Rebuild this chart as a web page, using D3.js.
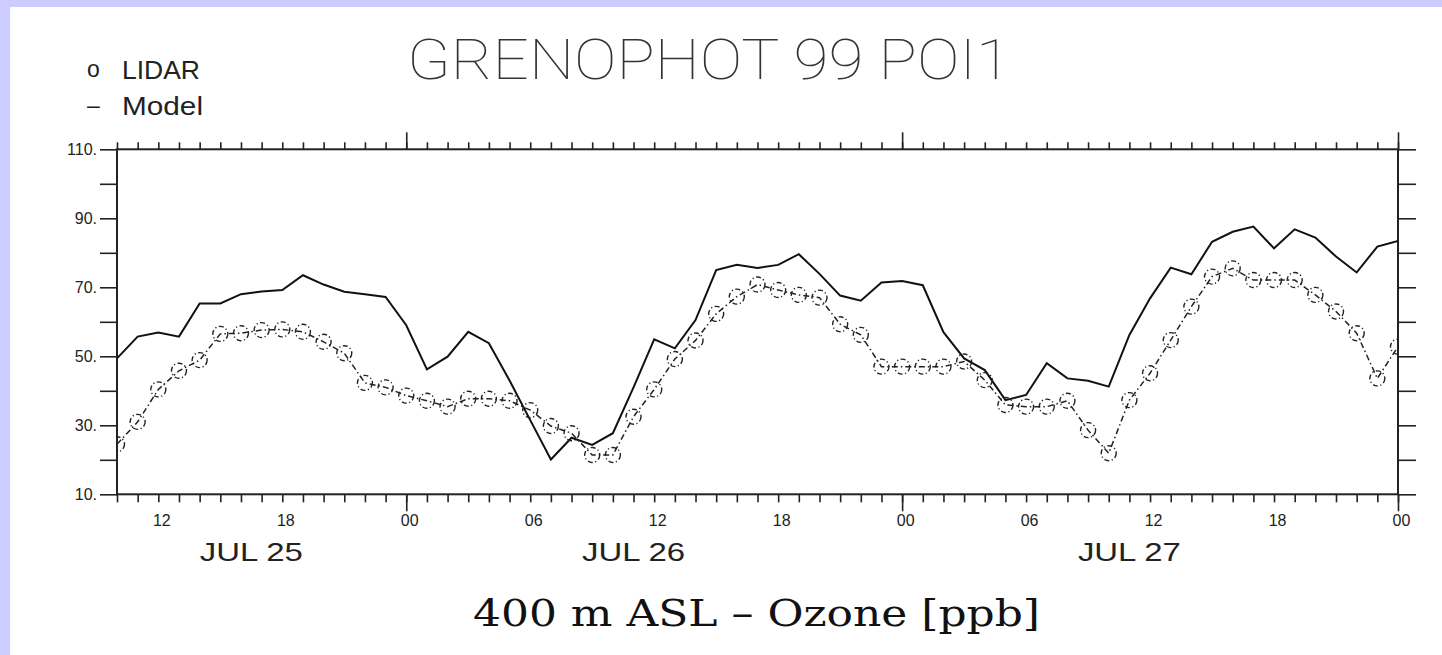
<!DOCTYPE html>
<html>
<head>
<meta charset="utf-8">
<script src="https://cdn.jsdelivr.net/npm/d3@7"></script>
<style>
  html, body { margin: 0; padding: 0; background: #ccccff; }
  svg { display: block; }
</style>
</head>
<body>
<svg id="chart" width="1442" height="655"></svg>
<script>
// ---------------- data ----------------
const startTime = new Date(Date.UTC(1999, 6, 25, 10));
const endTime = new Date(Date.UTC(1999, 6, 28, 0));
// hourly samples, 10:00 Jul 25 ... 00:00 Jul 28
const times = d3.utcHour.range(startTime, new Date(Date.UTC(1999, 6, 28, 0, 1)));

const modelValues = [
  49.4, 55.7, 56.9, 55.7, 65.3, 65.3, 68.0, 68.8, 69.2, 73.5,
  70.8, 68.7, 68.0, 67.2, 59.0, 46.2, 49.9, 57.1, 53.8, 43.0,
  31.5, 20.1, 26.4, 24.3, 27.7, 41.0, 54.9, 52.3, 60.5, 75.0,
  76.5, 75.6, 76.5, 79.6, 73.9, 67.6, 66.1, 71.4, 71.8, 70.6,
  57.0, 49.4, 46.0, 37.3, 38.8, 48.0, 43.6, 42.9, 41.2, 56.2,
  66.8, 75.7, 73.8, 83.2, 86.1, 87.6, 81.3, 86.8, 84.4, 78.9,
  74.3, 81.8, 83.4
];
const lidarValues = [
  24.5, 31.0, 40.4, 45.8, 48.9, 56.5, 56.7, 57.6, 57.8, 57.1,
  54.2, 50.9, 42.3, 41.0, 38.6, 37.1, 35.4, 37.7, 37.7, 37.1,
  34.4, 29.8, 27.7, 21.4, 21.4, 32.5, 40.4, 49.2, 54.6, 62.3,
  67.3, 70.8, 69.2, 67.8, 67.0, 59.3, 56.2, 47.0, 47.0, 47.0,
  47.0, 48.5, 43.1, 35.9, 35.4, 35.4, 37.1, 28.6, 21.9, 37.3,
  45.1, 54.7, 64.4, 73.1, 75.5, 72.1, 72.1, 72.1, 67.8, 63.0,
  56.7, 43.6, 52.8
];

const yTickValues = [10, 20, 30, 40, 50, 60, 70, 80, 90, 100, 110];
const yLabelValues = [10, 30, 50, 70, 90, 110];
const xLabelTimes = d3.utcHour.every(6).range(new Date(Date.UTC(1999, 6, 25, 12)), new Date(Date.UTC(1999, 6, 28, 0, 1)));
const dateLabels = ["JUL 25", "JUL 26", "JUL 27"];
const dateLabelTimes = [
  new Date(Date.UTC(1999, 6, 25, 16, 30)),
  new Date(Date.UTC(1999, 6, 26, 11)),
  new Date(Date.UTC(1999, 6, 27, 11))
];
const titleText = "GRENOPHOT 99 POI1";
const subtitleText = "400 m ASL \u2013 Ozone [ppb]";
const legendItems = [{ symbol: "o", label: "LIDAR" }, { symbol: "\u2013", label: "Model" }];

// ---------------- layout ----------------
const svg = d3.select("#chart");
const L = 117, R = 1398, T = 149.3, B = 494.3;
const ink = "#222";
const sans = "'Liberation Sans', Arial, Helvetica, sans-serif";

svg.append("rect").attr("x", 10).attr("y", 7).attr("width", 1432).attr("height", 648).attr("fill", "#fff");

const x = d3.scaleUtc().domain([startTime, endTime]).range([L, R]);
const y = d3.scaleLinear().domain([10, 110]).range([B, T]);

svg.append("defs").append("clipPath").attr("id", "plotclip")
  .append("rect").attr("x", L).attr("y", T).attr("width", R - L).attr("height", B - T);

// ---- axes ----
const hourTicks = d3.utcHour.range(startTime, new Date(Date.UTC(1999, 6, 28, 0, 1)));
const dayTicks = hourTicks.filter(d => d.getUTCHours() === 0);

function styleAxis(g) {
  g.select(".domain").remove();
  g.selectAll(".tick line").attr("stroke", ink).attr("stroke-width", 1.6);
  g.selectAll(".tick text").attr("fill", ink).attr("font-family", sans).attr("font-size", 16);
}

svg.append("g").attr("transform", `translate(0,${B})`)
  .call(d3.axisBottom(x).tickValues(hourTicks).tickSize(8).tickFormat(""))
  .call(styleAxis);
svg.append("g").attr("transform", `translate(0,${B})`)
  .call(d3.axisBottom(x).tickValues(dayTicks).tickSize(17).tickFormat(""))
  .call(styleAxis);
svg.append("g").attr("transform", `translate(0,${T})`)
  .call(d3.axisTop(x).tickValues(hourTicks).tickSize(7).tickFormat(""))
  .call(styleAxis);
svg.append("g").attr("transform", `translate(0,${T})`)
  .call(d3.axisTop(x).tickValues(dayTicks).tickSize(17).tickFormat(""))
  .call(styleAxis);
const xl = svg.append("g").attr("transform", `translate(0,${B})`)
  .call(d3.axisBottom(x).tickValues(xLabelTimes).tickSize(0).tickPadding(20).tickFormat(d3.utcFormat("%H")))
  .call(styleAxis);
xl.selectAll(".tick text").attr("dx", 3);

svg.append("g").attr("transform", `translate(${L},0)`)
  .call(d3.axisLeft(y).tickValues(yTickValues).tickSize(17).tickPadding(3)
    .tickFormat(d => yLabelValues.includes(d) ? d + "." : ""))
  .call(styleAxis);
svg.append("g").attr("transform", `translate(${R},0)`)
  .call(d3.axisRight(y).tickValues(yTickValues).tickSize(18).tickFormat(""))
  .call(styleAxis);

// frame
svg.append("rect").attr("x", L).attr("y", T).attr("width", R - L).attr("height", B - T)
  .attr("fill", "none").attr("stroke", ink).attr("stroke-width", 2);

// date labels
svg.append("g").selectAll("text").data(dateLabels).join("text")
  .attr("x", (d, i) => x(dateLabelTimes[i]))
  .attr("y", 561)
  .attr("text-anchor", "middle")
  .attr("font-family", sans).attr("font-size", 26).attr("fill", ink)
  .attr("textLength", 103).attr("lengthAdjust", "spacingAndGlyphs")
  .text(d => d);

// ---- series ----
const plot = svg.append("g").attr("clip-path", "url(#plotclip)");
const line = d3.line().x((d, i) => x(times[i])).y(d => y(d));
plot.append("path").datum(modelValues)
  .attr("d", line).attr("fill", "none")
  .attr("stroke", "#111").attr("stroke-width", 2).attr("stroke-linejoin", "miter");

plot.append("path").datum(lidarValues)
  .attr("d", line).attr("fill", "none")
  .attr("stroke", "#222").attr("stroke-width", 1.5).attr("stroke-dasharray", "6,3,1.5,3");
plot.append("g").selectAll("circle").data(lidarValues).join("circle")
  .attr("cx", (d, i) => x(times[i])).attr("cy", d => y(d)).attr("r", 7.5)
  .attr("fill", "none").attr("stroke", "#222").attr("stroke-width", 1.4)
  .attr("stroke-dasharray", "5,2.5,1.2,2.5");

// ---- title / legend / subtitle ----
svg.append("text").attr("x", 407).attr("y", 79)
  .attr("font-family", "Roboto, 'Liberation Sans', Arial, sans-serif").attr("font-weight", 100)
  .attr("font-size", 55).attr("fill", "#333")
  .attr("textLength", 604).attr("lengthAdjust", "spacingAndGlyphs")
  .text(titleText);

const leg = svg.append("g");
legendItems.forEach((it, i) => {
  leg.append("text").attr("x", 87).attr("y", 77 + i * 36)
    .attr("font-family", sans).attr("font-size", 23).attr("fill", ink).text(it.symbol);
  leg.append("text").attr("x", 122).attr("y", 79 + i * 36)
    .attr("font-family", sans).attr("font-size", 25).attr("fill", ink)
    .attr("textLength", i === 0 ? 78 : 81).attr("lengthAdjust", "spacingAndGlyphs")
    .text(it.label);
});

svg.append("text").attr("x", 473).attr("y", 626)
  .attr("font-family", "'DejaVu Serif', 'Liberation Serif', serif")
  .attr("font-size", 38).attr("fill", "#111")
  .attr("textLength", 567).attr("lengthAdjust", "spacingAndGlyphs")
  .text(subtitleText);
</script>
</body>
</html>
